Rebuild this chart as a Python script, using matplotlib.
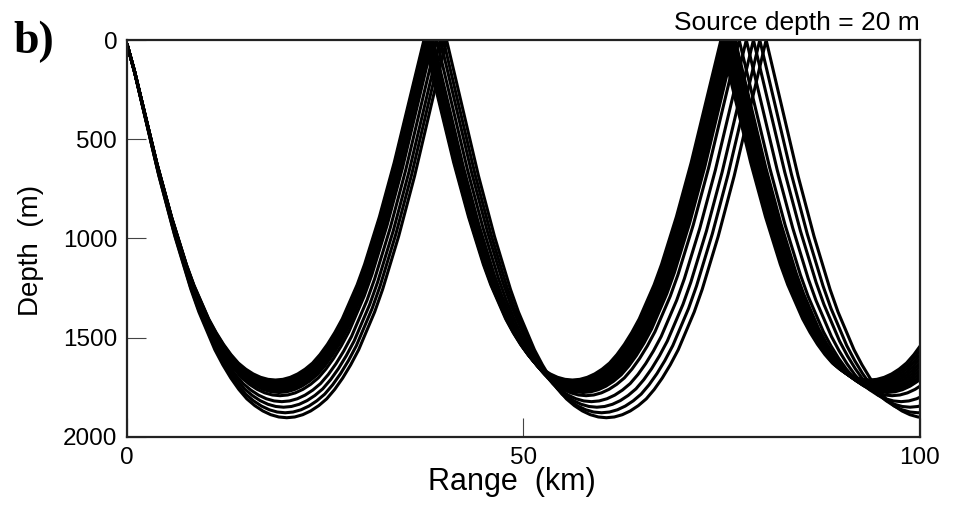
import numpy as np
import matplotlib
matplotlib.use("Agg")
import matplotlib.pyplot as plt

# Normalised half-arch of one ray loop: fraction of the half-span measured
# from the surface bounce (u) against fraction of the turning depth (s).
SHAPE_U = [0.00, 0.05, 0.10, 0.15, 0.20, 0.25, 0.30, 0.35, 0.40, 0.45, 0.50,
           0.55, 0.60, 0.65, 0.70, 0.75, 0.80, 0.85, 0.90, 0.95, 1.00]
SHAPE_S = [0.000, 0.090, 0.180, 0.270, 0.360, 0.440, 0.520, 0.590, 0.660, 0.720, 0.770,
           0.820, 0.860, 0.895, 0.925, 0.950, 0.968, 0.982, 0.992, 0.998, 1.000]

# Per-ray turning depth (m) and surface-to-surface loop length (km)
TURN_DEPTH = [1713, 1720, 1727, 1734, 1741, 1748, 1755, 1762, 1769, 1776,
              1792, 1822, 1850, 1878, 1903]
LOOP_LENGTH = [37.45, 37.55, 37.65, 37.75, 37.85, 37.95, 38.05, 38.15, 38.25, 38.35,
               38.6, 39.05, 39.5, 39.9, 40.3]

SOURCE_DEPTH = 20
RANGE_MAX = 100
DEPTH_MAX = 2000
X_TICKS = [0, 50, 100]
Y_TICKS = [0, 500, 1000, 1500, 2000]

plt.rcParams['font.family'] = ['Liberation Sans', 'DejaVu Sans']

fig = plt.figure(figsize=(9.59, 5.07), dpi=100)
ax = fig.add_axes([0.1324, 0.1381, 0.8269, 0.7830])

u = np.asarray(SHAPE_U)
s = np.asarray(SHAPE_S)


def ray_path(depth, loop):
    half = loop / 2.0
    xs, ys = [], []
    start = 0.0
    while start < RANGE_MAX:
        # down-going half: surface -> turning point
        xs.append(start + u * half)
        ys.append(s * depth)
        # up-going half: turning point -> surface
        xs.append(start + half + (1 - u[::-1]) * half)
        ys.append(s[::-1] * depth)
        start += loop
    x = np.concatenate(xs)
    y = np.concatenate(ys)
    y[0] = SOURCE_DEPTH
    return x, y


for d, L in zip(TURN_DEPTH, LOOP_LENGTH):
    x, y = ray_path(d, L)
    ax.plot(x, y, color='black', lw=2.2, solid_capstyle='butt', clip_on=True)

ax.set_xlim(0, RANGE_MAX)
ax.set_ylim(DEPTH_MAX, 0)
ax.set_xticks(X_TICKS)
ax.set_yticks(Y_TICKS)
ax.tick_params(direction='in', length=14, width=0.8, color='#444444',
               labelsize=17.5, pad=7)
for sp in ax.spines.values():
    sp.set_linewidth(1.6)
    sp.set_color('#222222')

ax.set_xlabel('Range  (km)', fontsize=22, labelpad=0)
ax.xaxis.set_label_coords(0.485, -0.075)
ax.set_ylabel('Depth  (m)', fontsize=20)
ax.yaxis.set_label_coords(-0.105, 0.47)

ax.text(1.0, 1.012, 'Source depth = 20 m', transform=ax.transAxes,
        ha='right', va='bottom', fontsize=19)
fig.text(0.014, 0.96, 'b)', fontsize=33, fontweight='bold',
         family='Liberation Serif', ha='left', va='top')

fig.savefig('out.png', dpi=100)
